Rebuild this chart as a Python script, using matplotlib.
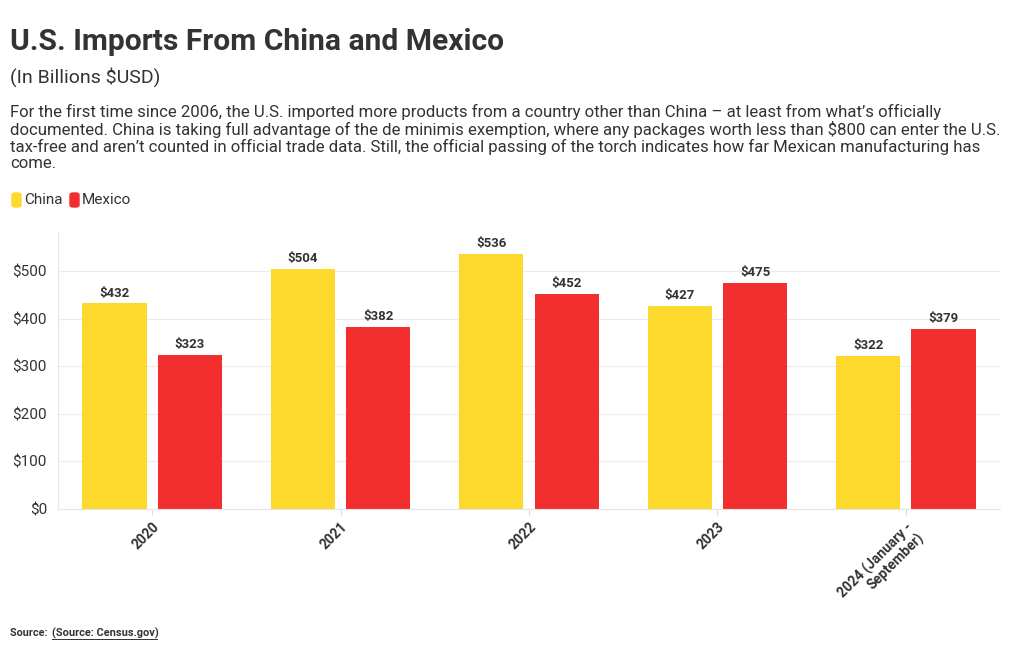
import matplotlib.pyplot as plt
import numpy as np
from matplotlib.patches import FancyBboxPatch

years = ["2020", "2021", "2022", "2023", "2024 (January -\nSeptember)"]
china = [432, 504, 536, 427, 322]
mexico = [323, 382, 452, 475, 379]

YELLOW = "#FDD92E"
RED = "#F22E2E"
TEXT = "#333333"

plt.rcParams["font.family"] = ["Roboto", "DejaVu Sans"]

fig = plt.figure(figsize=(10.2, 6.5), dpi=100)
ax = fig.add_axes([58 / 1020, 1 - 509 / 650, 942 / 1020, 277 / 650])

x = np.arange(len(years))
w = 0.34
b1 = ax.bar(x - 0.2, china, w, color=YELLOW, zorder=2)
b2 = ax.bar(x + 0.2, mexico, w, color=RED, zorder=2)

for bars, vals in ((b1, china), (b2, mexico)):
    for bar, v in zip(bars, vals):
        ax.text(bar.get_x() + bar.get_width() / 2, v + 8, f"${v}",
                ha="center", va="bottom", fontsize=9.5, fontweight="bold", color=TEXT)

ax.set_xlim(-0.5, len(years) - 0.5)
ax.set_ylim(0, 582)
ax.set_yticks(range(0, 501, 100))
ax.set_yticklabels([f"${v}" for v in range(0, 501, 100)], fontsize=11, color=TEXT)
ax.set_xticks(x)
ax.set_xticklabels(years, rotation=45, ha="right", rotation_mode="anchor",
                   fontsize=10, fontweight="bold", color=TEXT, linespacing=1.0)
ax.tick_params(axis="y", length=0, pad=8)
ax.tick_params(axis="x", length=4, color="#dddddd", pad=4)
ax.grid(axis="y", color="#ececec", linewidth=0.8, zorder=0)
for s in ["top", "right"]:
    ax.spines[s].set_visible(False)
ax.spines["left"].set_color("#e5e5e5")
ax.spines["bottom"].set_color("#e5e5e5")

fig.text(10 / 1020, 1 - 42 / 650, "U.S. Imports From China and Mexico",
         fontsize=21.6, fontweight="bold", color=TEXT, va="center")
fig.text(10 / 1020, 1 - 77 / 650, "(In Billions $USD)", fontsize=14, color=TEXT, va="center")
para = ("For the first time since 2006, the U.S. imported more products from a country other than China \u2013 at least from what\u2019s officially\n"
        "documented. China is taking full advantage of the de minimis exemption, where any packages worth less than $800 can enter the U.S.\n"
        "tax-free and aren\u2019t counted in official trade data. Still, the official passing of the torch indicates how far Mexican manufacturing has\n"
        "come.")
fig.text(10 / 1020, 1 - 104 / 650, para, fontsize=12.05, color=TEXT, va="top", linespacing=1.08)

# legend
for lx, col, lab in ((12, YELLOW, "China"), (70, RED, "Mexico")):
    fig.patches.append(FancyBboxPatch((lx / 1020, 1 - 207 / 650), 9 / 1020, 14 / 650,
                                      boxstyle="round,pad=0,rounding_size=0.003",
                                      transform=fig.transFigure, color=col))
    fig.text((lx + 12) / 1020, 1 - 200 / 650, lab, fontsize=11, color=TEXT, va="center")

fig.text(10 / 1020, 1 - 633 / 650, "Source: ", fontsize=7.8, fontweight="bold", color=TEXT, va="center")
fig.text(52 / 1020, 1 - 633 / 650, "(Source: Census.gov)", fontsize=7.9, fontweight="bold",
         color=TEXT, va="center")
fig.add_artist(plt.Line2D([52 / 1020, 157 / 1020], [1 - 639 / 650] * 2, color=TEXT, linewidth=0.7))

fig.savefig("out.png", dpi=100)
